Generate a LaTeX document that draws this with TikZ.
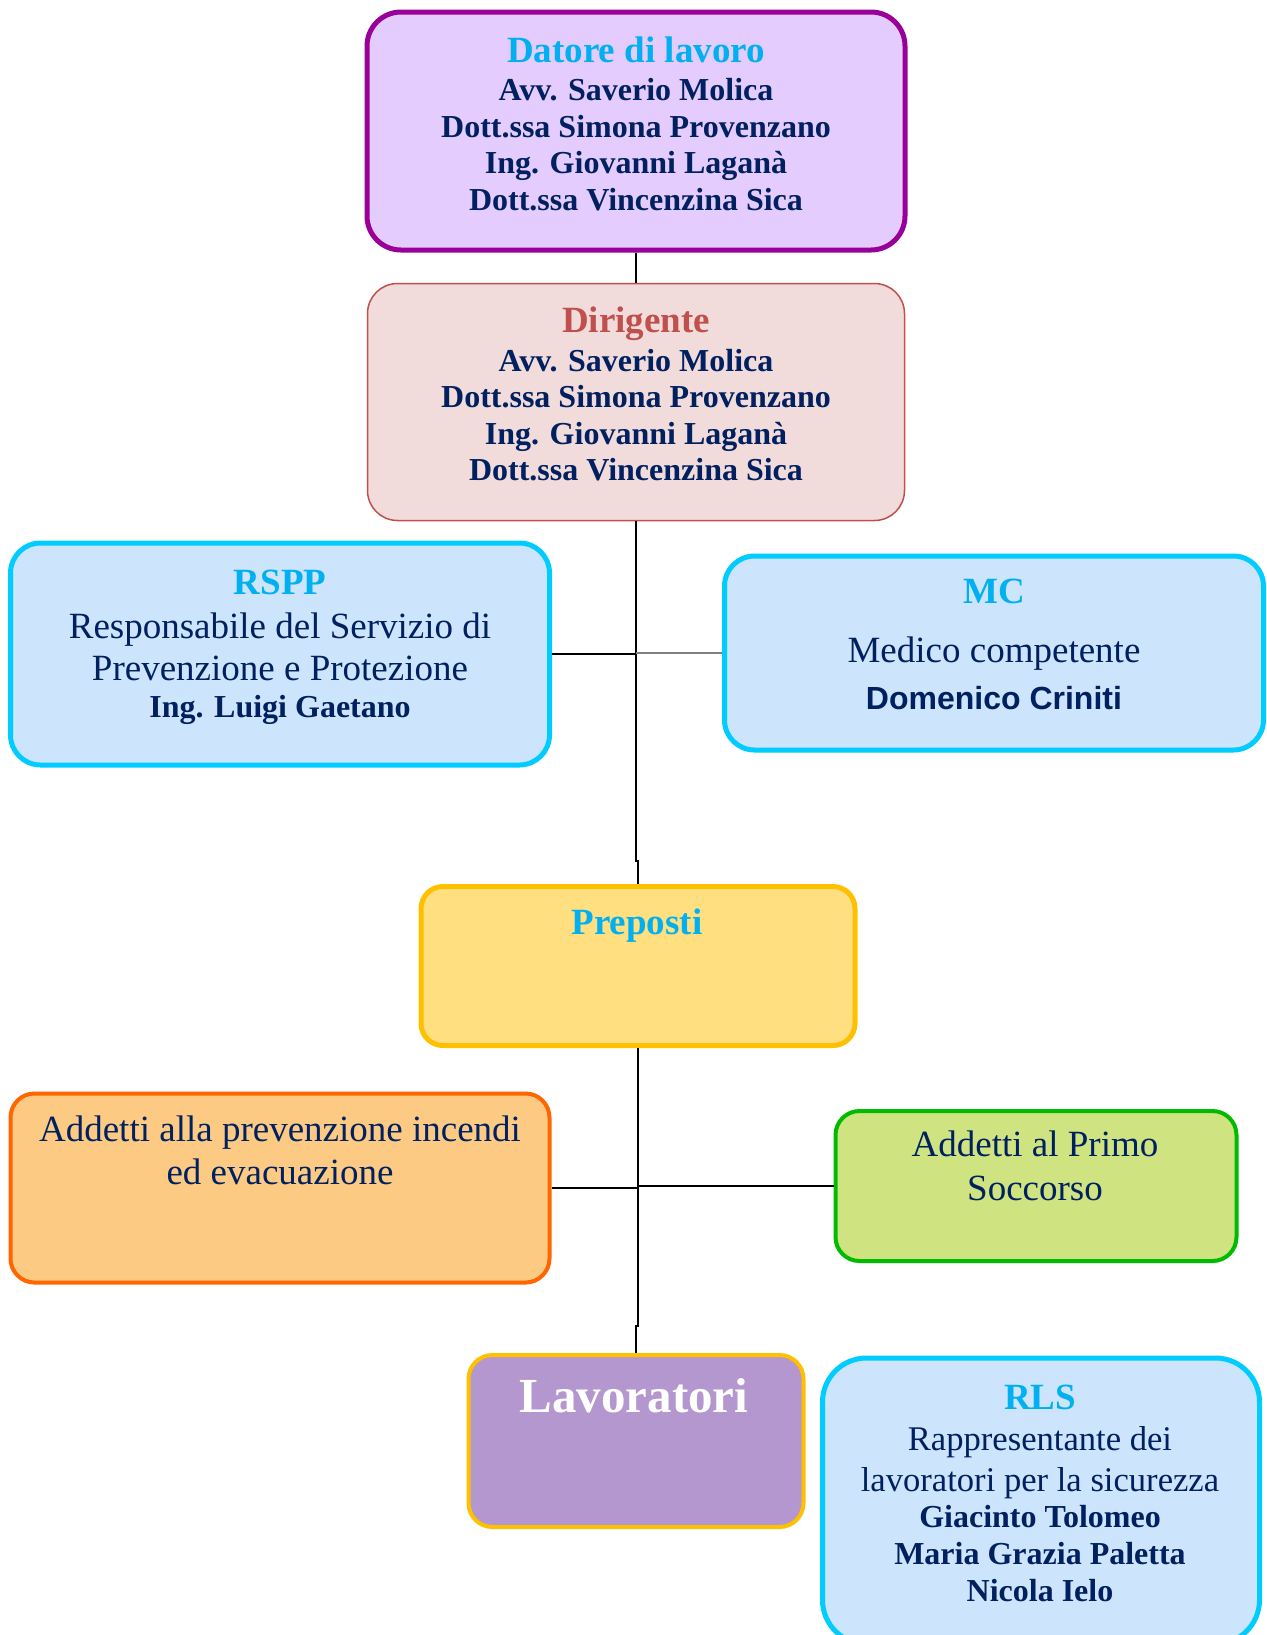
\documentclass[tikz,border=0pt]{standalone}
\usepackage{fontspec}
\setmainfont{Liberation Serif}
\newfontfamily\arialfont{Liberation Sans}

\definecolor{ttlblue}{HTML}{00B0F0}
\definecolor{navy}{HTML}{002060}
\definecolor{datorefill}{HTML}{E4CCFE}
\definecolor{datoredraw}{HTML}{990099}
\definecolor{dirfill}{HTML}{F2DCDB}
\definecolor{dirdraw}{HTML}{C0504D}
\definecolor{bluefill}{HTML}{CCE4FC}
\definecolor{bluedraw}{HTML}{00CCFF}
\definecolor{prepfill}{HTML}{FFDF80}
\definecolor{prepdraw}{HTML}{FFC000}
\definecolor{firefill}{HTML}{FDCA84}
\definecolor{firedraw}{HTML}{FF6600}
\definecolor{aidfill}{HTML}{CFE480}
\definecolor{aiddraw}{HTML}{00BB00}
\definecolor{lavfill}{HTML}{B497CF}

\newcommand\rlsname[1]{{\fontsize{16}{18.5}\selectfont\bfseries #1}}

\tikzset{
  orgbox/.style={draw, line width=2.5pt, rounded corners=15pt, inner sep=0pt},
  txt/.style={align=center, inner sep=0pt, text=navy},
}

\begin{document}
\begin{tikzpicture}[x=0.5pt,y=-0.5pt]
  \useasboundingbox (0,0) rectangle (1266,1635);
  \clip (0,0) rectangle (1266,1635);
  % boxes
  \node[orgbox, draw=datoredraw, fill=datorefill, rounded corners=17pt,
    minimum width=269pt, minimum height=119pt] (datore) at (636,131) {};
  \node[orgbox, line width=0.75pt, draw=dirdraw, fill=dirfill,
    minimum width=268.5pt, minimum height=118.5pt] (dirigente) at (636,402) {};
  \node[orgbox, draw=bluedraw, fill=bluefill,
    minimum width=269.5pt, minimum height=111pt] (rspp) at (280,654) {};
  \node[orgbox, draw=bluedraw, fill=bluefill,
    minimum width=269.5pt, minimum height=97pt] (mc) at (994,653) {};
  \node[orgbox, draw=prepdraw, fill=prepfill, rounded corners=11pt,
    minimum width=217pt, minimum height=79.5pt] (preposti) at (638,966) {};
  \node[orgbox, line width=2pt, draw=firedraw, fill=firefill, rounded corners=12pt,
    minimum width=269.5pt, minimum height=94.5pt] (incendi) at (280,1188) {};
  \node[orgbox, line width=2pt, draw=aiddraw, fill=aidfill, rounded corners=12pt,
    minimum width=200.5pt, minimum height=75pt] (primo) at (1036,1186) {};
  \node[orgbox, line width=2pt, draw=prepdraw, fill=lavfill, rounded corners=12pt,
    minimum width=167.5pt, minimum height=86pt] (lavoratori) at (636,1441) {};
  \node[orgbox, draw=bluedraw, fill=bluefill, rounded corners=22pt,
    minimum width=218.5pt, minimum height=143pt] (rls) at (1041,1501) {};
  % texts
  \node[txt, font=\fontsize{16}{18.25}\selectfont\bfseries] (datoreT) at (636,124)
    {{\fontsize{18.5}{18.25}\selectfont\color{ttlblue}Datore di lavoro}\\[0.75pt]
     Avv. Saverio Molica\\Dott.ssa Simona Provenzano\\Ing. Giovanni Laganà\\Dott.ssa Vincenzina Sica};
  \node[txt, font=\fontsize{16}{18.25}\selectfont\bfseries] (dirigenteT) at (636,394)
    {{\fontsize{18.5}{18.25}\selectfont\color{dirdraw}Dirigente}\\[1pt]
     Avv. Saverio Molica\\Dott.ssa Simona Provenzano\\Ing. Giovanni Laganà\\Dott.ssa Vincenzina Sica};
  \node[txt, font=\fontsize{18.5}{21}\selectfont] (rsppT) at (280,647)
    {{\bfseries\color{ttlblue}RSPP}\\[1pt]
     Responsabile del Servizio di\\Prevenzione e Protezione\\[-2.5pt]
     {\fontsize{16}{21}\selectfont\bfseries Ing. Luigi Gaetano}};
  \node[txt, font=\fontsize{18.5}{23.5}\selectfont] (mcT) at (994,644)
    {{\bfseries\color{ttlblue}MC}\\[6pt]
     Medico competente\\
     {\arialfont\fontsize{16}{23.5}\selectfont\bfseries Domenico Criniti}};
  \node[txt, text=ttlblue, font=\fontsize{18.5}{21}\selectfont\bfseries] (prepostiT) at (637,926) {Preposti};
  \node[txt, font=\fontsize{18.5}{21.5}\selectfont] (incendiT) at (280,1150.5)
    {Addetti alla prevenzione incendi\\ed evacuazione};
  \node[txt, font=\fontsize{18.5}{22}\selectfont] (primoT) at (1035,1166)
    {Addetti al Primo\\Soccorso};
  \node[txt, text=white, font=\fontsize{24.5}{28}\selectfont\bfseries] (lavoratoriT) at (634,1396) {Lavoratori};
  \node[txt, font=\fontsize{17.3}{20.5}\selectfont] (rlsT) at (1040,1493)
    {{\fontsize{18.5}{20.5}\selectfont\bfseries\color{ttlblue}RLS}\\
     Rappresentante dei\\lavoratori per la sicurezza\\[-2.5pt]
     \rlsname{Giacinto Tolomeo}\\[-2pt]\rlsname{Maria Grazia Paletta}\\[-2pt]\rlsname{Nicola Ielo}};
  % connectors
  \coordinate (bendA) at (636,861);
  \coordinate (bendB) at (636,1326);
  \begin{scope}[line width=1.2pt]
    \draw (datore) -- (dirigente);
    \draw (dirigente.south) -- (bendA) -- (bendA -| preposti.north) -- (preposti.north);
    \draw (preposti.south) -- (preposti.south |- bendB) -- (bendB) -- (lavoratori.north);
    \draw[line width=1.4pt] (rspp.east) -- (rspp.east -| dirigente.south);
    \draw[gray, line width=0.6pt] (mc.west -| dirigente.south) -- (mc.west);
    \draw[line width=1.4pt] (incendi.east) -- (incendi.east -| preposti.south);
    \draw[line width=1.4pt] (primo.west -| preposti.south) -- (primo.west);
  \end{scope}
\end{tikzpicture}
\end{document}
